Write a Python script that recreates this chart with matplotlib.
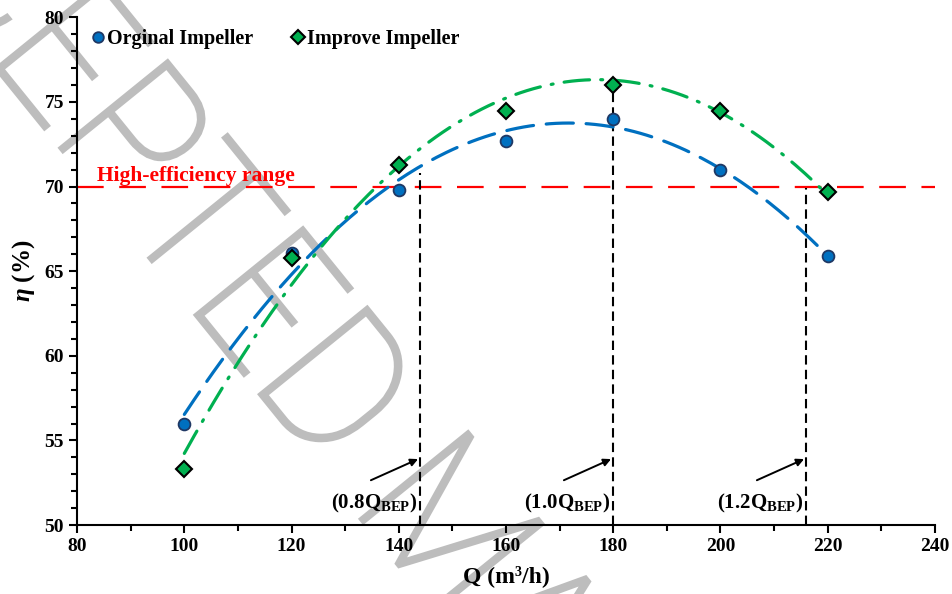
import numpy as np
import matplotlib
matplotlib.use("Agg")
import matplotlib.pyplot as plt
from matplotlib.ticker import MultipleLocator
from matplotlib.textpath import TextPath
from matplotlib.patches import PathPatch
from matplotlib.font_manager import FontProperties
from matplotlib.transforms import Affine2D

plt.rcParams['font.family'] = ['Liberation Serif', 'DejaVu Serif']
plt.rcParams['font.weight'] = 'bold'
plt.rcParams['mathtext.fontset'] = 'custom'
plt.rcParams['mathtext.rm'] = 'Liberation Serif:bold'
plt.rcParams['mathtext.bf'] = 'Liberation Serif:bold'
plt.rcParams['mathtext.it'] = 'Liberation Serif:italic:bold'

# data
Q = [100, 120, 140, 160, 180, 200, 220]
eta_orig = [56.0, 66.1, 69.8, 72.7, 74.0, 71.0, 65.9]
eta_impr = [53.3, 65.8, 71.3, 74.45, 76.0, 74.45, 69.7]

eta_high = 70.0
bep_q = [144, 180, 216]
bep_top = [70.8, 75.5, 69.9]
bep_labels = ['(0.8Q$_{\\mathbf{BEP}}$)', '(1.0Q$_{\\mathbf{BEP}}$)', '(1.2Q$_{\\mathbf{BEP}}$)']

blue = '#0070C0'
green = '#00B050'

fig = plt.figure(figsize=(9.52, 5.94), dpi=100)
ax = fig.add_axes([0.081, 0.116, 0.901, 0.855])
ax.patch.set_visible(False)

# polynomial trendlines (order 2)
qq = np.linspace(100, 220, 200)
p1 = np.polyfit(Q, eta_orig, 2)
p2 = np.polyfit(Q, eta_impr, 2)
ax.plot(qq, np.polyval(p1, qq), color=blue, lw=2.3, dashes=(8.5, 4), dash_capstyle='round', zorder=3)
ax.plot(qq, np.polyval(p2, qq), color=green, lw=2.3, dashes=(8, 3.5, 0.6, 3.5), dash_capstyle='round', zorder=3)

ax.plot(Q, eta_orig, 'o', ms=8.5, mfc=blue, mec='#1F3864', mew=1.3, ls='none', zorder=5, label='Orginal Impeller')
ax.plot(Q, eta_impr, 'D', ms=8, mfc=green, mec='black', mew=1.5, ls='none', zorder=5, label='Improve Impeller')

# high-efficiency range
ax.axhline(eta_high, color='red', lw=1.6, dashes=(12, 7), zorder=2)
ax.text(83.7, 70.35, 'High-efficiency range', color='red', fontsize=15.5, fontweight='bold')

for q, top, lab in zip(bep_q, bep_top, bep_labels):
    ax.plot([q, q], [50, top], color='black', lw=1.5, dashes=(4.5, 2.5), zorder=2)
    ax.annotate('', xy=(q - 0.4, 53.9), xytext=(q - 9.2, 52.65),
                arrowprops=dict(arrowstyle='-|>', color='black', lw=1.4, mutation_scale=11,
                                shrinkA=0, shrinkB=0))
    ax.text(q - 0.5, 51.0, lab, ha='right', va='baseline', fontsize=15)

ax.set_xlim(80, 240)
ax.set_ylim(50, 80)
ax.xaxis.set_major_locator(MultipleLocator(20))
ax.xaxis.set_minor_locator(MultipleLocator(10))
ax.yaxis.set_major_locator(MultipleLocator(5))
ax.yaxis.set_minor_locator(MultipleLocator(1))
ax.tick_params(which='both', direction='out', width=1.5, labelsize=14)
ax.tick_params(which='major', length=6)
ax.tick_params(which='minor', length=4)
for s in ['top', 'right']:
    ax.spines[s].set_visible(False)
for s in ['left', 'bottom']:
    ax.spines[s].set_linewidth(1.5)

ax.set_xlabel('Q (m³/h)', fontsize=17, fontweight='bold', labelpad=7)
ax.set_ylabel('$\\eta$ (%)', fontsize=18, fontweight='bold', labelpad=5)

ax.legend(loc='upper left', bbox_to_anchor=(0.008, 0.993), ncol=2, frameon=False,
          fontsize=14.5, handlelength=0.6, handletextpad=0.15, columnspacing=1.9,
          borderaxespad=0, markerscale=0.9)

# watermark
fp = FontProperties(family='Roboto', weight='light')
wm = 'ACCEPTED MANUSCRIPT'
size = 195
sx = 0.92
tp = TextPath((0, 0), wm, size=size, prop=fp)
dx = TextPath((0, 0), 'ACCEPTED', size=size, prop=fp).get_extents().x1
dw = TextPath((0, 0), 'D', size=size, prop=fp).get_extents().width
stem = (dx - dw + 0.04 * size) * sx
ang = -51
rot = Affine2D().rotate_deg(ang)
px, py = rot.transform((stem, 0))
tr = Affine2D().scale(sx, 1).rotate_deg(ang).translate(264 - px, (594 - 400) - py)
patch = PathPatch(tp, facecolor='#bdbdbd', edgecolor='#bdbdbd', lw=2.5,
                  joinstyle='miter', transform=tr, zorder=-1)
fig.add_artist(patch)

fig.savefig('out.png', dpi=100)
